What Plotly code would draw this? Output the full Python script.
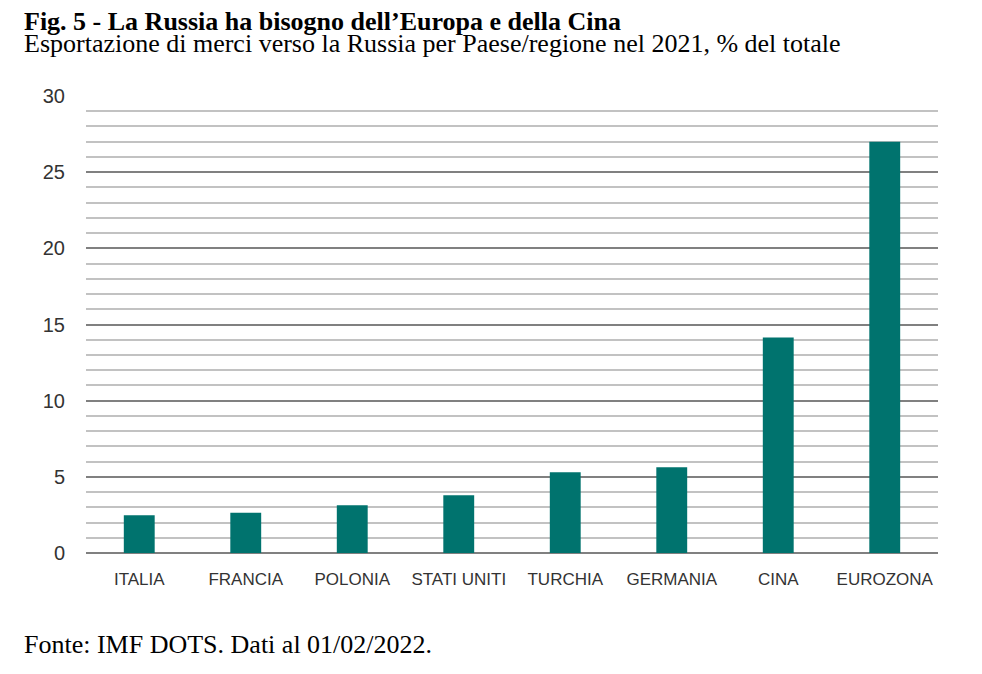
import plotly.graph_objects as go

categories = ["ITALIA", "FRANCIA", "POLONIA", "STATI UNITI", "TURCHIA", "GERMANIA", "CINA", "EUROZONA"]
values = [2.47, 2.65, 3.13, 3.79, 5.30, 5.63, 14.14, 27.0]
y_ticks = [0, 5, 10, 15, 20, 25, 30]

title = "Fig. 5 - La Russia ha bisogno dell\u2019Europa e della Cina"
subtitle = "Esportazione di merci verso la Russia per Paese/regione nel 2021, % del totale"
source = "Fonte: IMF DOTS. Dati al 01/02/2022."

fig = go.Figure(go.Bar(
    x=categories, y=values,
    marker=dict(color="#00736E", line=dict(width=0)),
    hoverinfo="x+y",
))

L, R, T, B = 78, 52, 88, 129
plot_w = 982 - L - R
text_x = (14 - L) / plot_w

fig.update_layout(
    width=982, height=674,
    paper_bgcolor="white", plot_bgcolor="white",
    margin=dict(l=L, r=R, t=T, b=B),
    bargap=0.71,
    showlegend=False,
    font=dict(family="Liberation Sans", color="#333333"),
)
fig.update_xaxes(
    showgrid=False, showline=False, zeroline=False,
    ticks="", tickfont=dict(family="Liberation Sans", size=17, color="#333333"),
    ticklabelstandoff=14,
)
fig.update_yaxes(
    range=[0, 30], tickvals=y_ticks,
    showgrid=True, gridcolor="#808080", gridwidth=1.5,
    zeroline=True, zerolinecolor="#808080", zerolinewidth=2,
    minor=dict(dtick=1, showgrid=True, gridcolor="#c2c2c2", gridwidth=1.5),
    ticks="", tickfont=dict(family="Liberation Sans", size=20, color="#333333"),
    ticklabelstandoff=20,
    showline=False,
)

fig.add_annotation(text="<b>" + title + "</b>", xref="paper", yref="paper",
                   x=text_x, y=1.0, xanchor="left", yanchor="bottom", yshift=58,
                   showarrow=False, font=dict(family="Liberation Serif", size=26, color="#000000"))
fig.add_annotation(text=subtitle, xref="paper", yref="paper",
                   x=text_x, y=1.0, xanchor="left", yanchor="bottom", yshift=36,
                   showarrow=False, font=dict(family="Liberation Serif", size=26, color="#000000"))
fig.add_annotation(text=source, xref="paper", yref="paper",
                   x=text_x, y=0.0, xanchor="left", yanchor="top", yshift=-75,
                   showarrow=False, font=dict(family="Liberation Serif", size=26, color="#000000"))

fig.write_html("out.html")
